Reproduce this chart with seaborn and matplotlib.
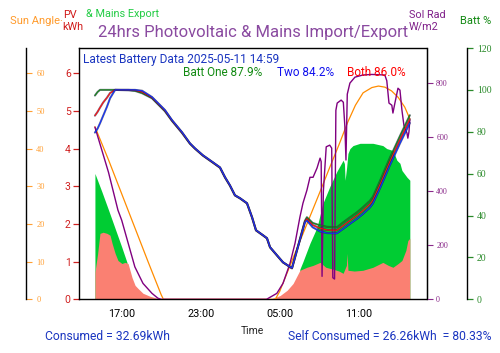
import numpy as np
import matplotlib
matplotlib.use("Agg")
import matplotlib.pyplot as plt
import matplotlib.patheffects as pe
import seaborn as sns

# ---------------- data ----------------
sun_times = ["14:58", "16:00", "17:00", "18:00", "19:00", "20:00", "20:10", "04:40", "05:00",
             "06:00", "07:00", "08:00", "08:50", "09:30", "10:10", "10:45", "11:20", "12:00",
             "12:30", "13:00", "13:30", "14:00", "14:30", "14:53"]
sun_angle = [45.8, 37.0, 28.0, 19.0, 10.0, 1.2, 0.0, 0.0, 2.1,
             10.8, 19.4, 28.0, 35.3, 41.0, 47.0, 51.5, 54.8, 56.2,
             56.6, 56.3, 55.3, 53.6, 51.0, 47.9]

sol_times = ["14:58", "16:00", "16:43", "17:00", "18:00", "18:37", "19:18", "19:45", "20:00",
             "04:00", "04:47", "05:15", "05:47", "06:10", "06:32", "06:46", "07:04", "07:18",
             "07:32", "07:50", "08:04", "08:09", "08:13", "08:19", "08:32", "08:48", "08:57",
             "09:02", "09:10", "09:16", "09:22", "09:40", "09:50", "09:57", "10:02", "10:08",
             "10:20", "10:43", "11:19", "12:00", "12:59", "13:08", "13:18", "13:31", "13:36",
             "13:45", "13:59", "14:08", "14:17", "14:26", "14:40", "14:44", "14:49", "14:53"]
sol_rad = [638, 470, 330, 293, 120, 59, 22, 4, 0,
           0, 22, 59, 133, 208, 304, 356, 404, 452,
           452, 486, 523, 510, 85, 400, 565, 571, 560,
           80, 75, 700, 727, 738, 730, 640, 516, 760,
           801, 823, 831, 833, 831, 810, 727, 719, 690,
           727, 782, 775, 701, 645, 616, 597, 620, 664]

load_times = ["14:58", "15:10", "15:21", "15:35", "15:53", "16:07", "16:16", "16:30", "16:43",
              "17:01", "17:15", "17:29", "17:47", "18:01", "18:14", "18:37", "19:09", "19:41",
              "19:54", "04:16", "05:02", "05:34", "06:01", "06:32", "07:04", "07:32", "08:04",
              "08:30", "09:03", "09:30", "09:49", "10:04", "10:07", "10:11", "10:40", "11:19",
              "12:05", "12:50", "13:15", "13:36", "14:00", "14:17", "14:35", "14:44", "14:53"]
load_kwh = [0.72, 1.20, 1.75, 1.78, 1.75, 1.70, 1.49, 1.22, 1.03,
            0.95, 0.98, 0.95, 0.58, 0.37, 0.29, 0.16, 0.08, 0.03,
            0.0, 0.0, 0.10, 0.24, 0.42, 0.77, 0.85, 0.90, 0.98,
            0.85, 0.80, 0.75, 0.69, 0.90, 1.22, 0.77, 0.75, 0.77,
            0.85, 0.98, 0.90, 0.85, 0.95, 1.03, 1.30, 1.56, 1.62]

pv_times = ["14:58", "15:30", "16:00", "16:30", "17:00", "17:24", "17:30", "06:20", "06:32",
            "06:46", "07:18", "07:50", "08:17", "08:49", "09:21", "09:49", "09:55", "09:58",
            "10:05", "10:11", "10:20", "10:34", "11:06", "12:05", "12:50", "13:08", "13:36",
            "13:54", "14:08", "14:17", "14:40", "14:53"]
pv_kwh = [3.34, 2.85, 2.37, 1.88, 1.39, 0.98, 0.0, 0.0, 0.80,
          1.00, 1.49, 1.91, 2.55, 3.00, 3.40, 3.69, 3.60, 3.16,
          3.50, 3.87, 4.00, 4.08, 4.14, 4.14, 4.08, 4.00, 3.95,
          3.69, 3.61, 3.42, 3.24, 3.16]

bat_times = ["14:58", "15:10", "15:21", "15:35", "15:53", "16:07", "16:30", "17:30", "18:01",
             "18:33", "19:18", "20:17", "20:49", "21:35", "22:11", "22:34", "23:10", "23:56",
             "00:28", "00:51", "01:13", "01:36", "01:59", "02:31", "02:54", "03:12", "03:44",
             "04:02", "04:16", "04:47", "05:15", "05:56", "06:55", "07:04", "07:30", "08:04",
             "08:36", "09:21", "09:49", "10:20", "10:52", "11:19", "11:51", "12:05", "12:37",
             "13:22", "14:08", "14:53"]
batt_one = [97.3, 99.0, 100, 100, 100, 100, 100, 99.8, 99.5,
            98.4, 96.0, 89.8, 85.2, 79.4, 74.3, 71.9, 68.6, 65.2,
            62.8, 58.1, 54.3, 49.6, 48.2, 45.8, 39.1, 32.9, 30.5,
            29.1, 24.8, 21.0, 17.6, 14.8, 37.5, 39.2, 36.5, 35.3,
            34.6, 34.4, 36.7, 39.1, 41.5, 43.9, 47.0, 49.0, 56.5,
            67.5, 78.0, 87.9]
batt_both = [87.7, 89.5, 91.5, 93.9, 96.3, 98.5, 100, 100, 99.8,
             99.0, 96.3, 90.1, 85.4, 79.6, 74.4, 72.0, 68.7, 65.3,
             62.9, 58.2, 54.4, 49.65, 48.25, 45.85, 39.15, 32.95, 30.55,
             29.15, 24.85, 21.05, 17.65, 14.85, 37.1, 38.4, 35.5, 33.9,
             33.1, 33.0, 35.2, 37.6, 40.0, 42.3, 45.4, 47.4, 54.7,
             65.7, 76.2, 86.0]
batt_two = [79.6, 81.5, 84.0, 87.5, 92.0, 96.0, 100, 100, 100,
            99.6, 96.6, 90.4, 85.6, 79.8, 74.5, 72.1, 68.8, 65.4,
            63.0, 58.3, 54.5, 49.7, 48.3, 45.9, 39.2, 33.0, 30.6,
            29.2, 24.9, 21.1, 17.7, 14.9, 36.8, 37.6, 34.4, 32.4,
            31.6, 31.5, 33.6, 36.0, 38.4, 40.7, 43.8, 45.8, 53.0,
            63.9, 74.4, 84.2]

xtick_hours = [17, 23, 29, 35]
xtick_labels = ["17:00", "23:00", "05:00", "11:00"]
pv_ticks = [0, 1, 2, 3, 4, 5, 6]
sun_ticks = [0, 10, 20, 30, 40, 50, 60]
sol_ticks = [0, 200, 400, 600, 800]
bat_ticks = [0, 20, 40, 60, 80, 100, 120]

title = "24hrs Photovoltaic & Mains Import/Export"
latest_text = "Latest Battery Data 2025-05-11 14:59"
batt_one_label = "Batt One 87.9%"
batt_two_label = "Two 84.2%"
batt_both_label = "Both 86.0%"
consumed_text = "Consumed = 32.69kWh"
self_consumed_text = "Self Consumed = 26.26kWh  = 80.33%"


def to_hours(times):
    out, offset, prev = [], 0.0, None
    for t in times:
        h, m = t.split(":")
        v = int(h) + int(m) / 60.0 + offset
        if prev is not None and v < prev:
            offset += 24.0
            v += 24.0
        out.append(v)
        prev = v
    return np.array(out)


# ---------------- style ----------------
sns.set_style("white")
plt.rcParams["font.family"] = ["Roboto", "DejaVu Sans"]

W, H = 500, 353
fig = plt.figure(figsize=(W / 100, H / 100), dpi=100)
fig.patch.set_facecolor("white")


def P(x, y):
    return x / W, 1 - y / H


ax = fig.add_axes([79 / W, 1 - 299.3 / H, (426.5 - 79) / W, (299.3 - 48) / H])
ax.set_facecolor("white")

# fills (PV axis)
ax.fill_between(to_hours(pv_times), 0, pv_kwh, color="#00cc33", lw=0, zorder=1)
ax.fill_between(to_hours(load_times), 0, load_kwh, color="#fa8072", lw=0, zorder=2)

ax.set_xlim(13.757, 40.15)
ax.set_ylim(0, 6.67)
ax.set_xticks(xtick_hours)
ax.set_xticklabels(xtick_labels)
ax.set_yticks(pv_ticks)
ax.set_yticklabels([str(t) for t in pv_ticks])
ax.tick_params(axis="x", colors="black", labelsize=7.8, length=4, width=0.8, pad=3)
ax.tick_params(axis="y", colors="#d02020", labelsize=7.5, length=4, width=0.9, pad=2)
for sp in ax.spines.values():
    sp.set_color("black")
    sp.set_linewidth(1.0)
ax.set_xlabel("Time", fontsize=7.5, labelpad=5)
ax.set_ylabel("")

# sun angle axis (outer left, labels to the right of the spine)
ax_sun = ax.twinx()
sns.lineplot(x=to_hours(sun_times), y=sun_angle, ax=ax_sun, color="#ff8c00", linewidth=0.9)
ax_sun.set_ylim(0, 66.7)
ax_sun.spines["right"].set_position(("axes", (26.5 - 79) / 347.5))
for sp in ["top", "bottom", "left"]:
    ax_sun.spines[sp].set_visible(False)
ax_sun.spines["right"].set_color("black")
ax_sun.spines["right"].set_linewidth(1.0)
ax_sun.set_yticks(sun_ticks)
ax_sun.set_yticklabels([str(t) for t in sun_ticks], fontfamily="Liberation Serif")
ax_sun.tick_params(axis="y", colors="#ff9f33", labelsize=6, length=4, width=0.8, pad=3)
ax_sun.set_ylabel("")

# solar radiation axis (main right spine)
ax_sol = ax.twinx()
sns.lineplot(x=to_hours(sol_times), y=sol_rad, ax=ax_sol, color="#800080", linewidth=1.0)
ax_sol.set_ylim(0, 931)
for sp in ["top", "bottom", "left"]:
    ax_sol.spines[sp].set_visible(False)
ax_sol.spines["right"].set_color("black")
ax_sol.set_yticks(sol_ticks)
ax_sol.set_yticklabels([str(t) for t in sol_ticks], fontfamily="Liberation Serif")
ax_sol.tick_params(axis="y", colors="#8a2a8a", labelsize=5.8, length=4, width=0.8, pad=3)
ax_sol.set_ylabel("")

# battery axis (outer right)
ax_bat = ax.twinx()
ax_bat.set_ylim(0, 120)
bx = to_hours(bat_times)
for vals, col in [(batt_one, "#168a16"), (batt_both, "#ff1010"), (batt_two, "#1030ff")]:
    sns.lineplot(x=bx, y=vals, ax=ax_bat, color=col, linewidth=0.8)
    ax_bat.lines[-1].set_path_effects([pe.Stroke(linewidth=1.5, foreground="#202048", alpha=0.6),
                                       pe.Normal()])
ax_bat.spines["right"].set_position(("axes", (467 - 79) / 347.5))
for sp in ["top", "bottom", "left"]:
    ax_bat.spines[sp].set_visible(False)
ax_bat.spines["right"].set_color("black")
ax_bat.spines["right"].set_linewidth(1.0)
ax_bat.set_yticks(bat_ticks)
ax_bat.set_yticklabels([str(t) for t in bat_ticks], fontfamily="Liberation Serif")
ax_bat.tick_params(axis="y", colors="#2a8a2a", labelsize=7, length=4, width=0.9, pad=3)
ax_bat.set_ylabel("")
ax_bat.set_xlim(13.757, 40.15)

# ---------------- texts ----------------
fig.text(*P(253, 33), title, color="#8a4aa0", fontsize=12, ha="center", va="center")
fig.text(*P(10, 21), "Sun Angle", color="#ff9a2a", fontsize=8, ha="left", va="center")
fig.text(*P(59, 21), ".", color="#ff9a2a", fontsize=8, ha="left", va="baseline")
fig.text(*P(63, 15), "PV", color="#d01818", fontsize=7.8, ha="left", va="center")
fig.text(*P(62, 27), "kWh", color="#d01818", fontsize=7.8, ha="left", va="center")
fig.text(*P(86, 14), "& Mains Export", color="#22cc44", fontsize=7.8, ha="left", va="center")
fig.text(*P(409, 15), "Sol Rad", color="#80208a", fontsize=7.8, ha="left", va="center")
fig.text(*P(409, 27), "W/m2", color="#80208a", fontsize=7.8, ha="left", va="center")
fig.text(*P(460, 21), "Batt %", color="#118811", fontsize=8, ha="left", va="center")

fig.text(*P(83, 59.5), latest_text, color="#1a35c0", fontsize=8.6, ha="left", va="center")
fig.text(*P(183, 72), batt_one_label, color="#128a12", fontsize=8.5, ha="left", va="center")
fig.text(*P(277, 72), batt_two_label, color="#1010ee", fontsize=8.5, ha="left", va="center")
fig.text(*P(347, 72), batt_both_label, color="#ff0000", fontsize=8.5, ha="left", va="center")

fig.text(*P(45, 337), consumed_text, color="#1a35c0", fontsize=8.7, ha="left", va="center")
fig.text(*P(288, 337), self_consumed_text, color="#1a35c0", fontsize=8.7, ha="left", va="center")

fig.savefig("out.png", dpi=100, facecolor="white")
